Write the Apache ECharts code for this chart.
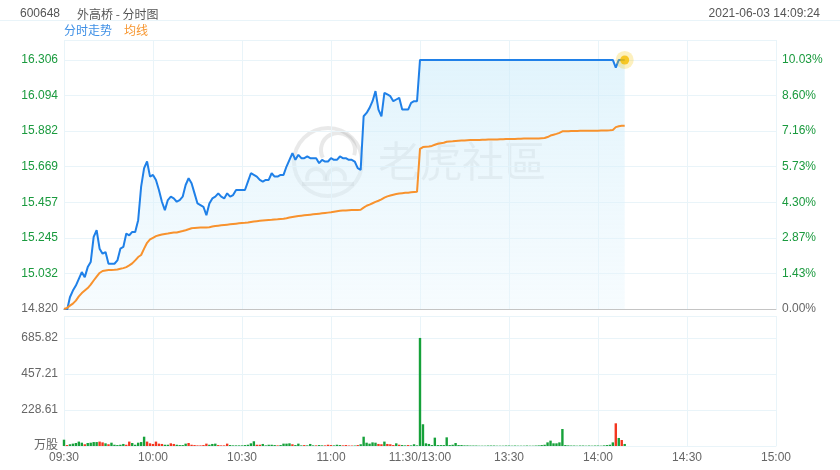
<!DOCTYPE html>
<html><head><meta charset="utf-8">
<script src="https://cdn.jsdelivr.net/npm/echarts@6/dist/echarts.min.js"></script>
<style>html,body{margin:0;padding:0;background:#fff}#c{width:840px;height:470px}</style>
</head><body><div id="c"></div>
<script>
// ---- data ----
const xTickLabels = ['09:30','10:00','10:30','11:00','11:30/13:00','13:30','14:00','14:30','15:00'];
const priceTicks = ['14.820','15.032','15.245','15.457','15.669','15.882','16.094','16.306'];
const pctTicks = ['0.00%','1.43%','2.87%','4.30%','5.73%','7.16%','8.60%','10.03%'];
const volTicks = ['万股','228.61','457.21','685.82'];

const price = [
14.82,14.81,14.89,14.93,14.96,15.00,15.04,15.01,15.07,15.10,
15.25,15.29,15.18,15.15,15.16,15.09,15.09,15.09,15.11,15.18,
15.19,15.27,15.26,15.28,15.28,15.35,15.55,15.66,15.70,15.61,
15.62,15.59,15.53,15.46,15.41,15.47,15.49,15.48,15.46,15.47,
15.49,15.56,15.60,15.57,15.51,15.45,15.44,15.43,15.38,15.45,
15.48,15.49,15.51,15.49,15.48,15.51,15.49,15.50,15.53,15.53,
15.53,15.53,15.58,15.63,15.62,15.61,15.59,15.58,15.59,15.59,
15.63,15.61,15.61,15.62,15.62,15.67,15.71,15.75,15.71,15.74,
15.72,15.72,15.73,15.72,15.72,15.72,15.69,15.71,15.70,15.70,
15.72,15.71,15.71,15.73,15.72,15.72,15.71,15.71,15.70,15.66,
15.65,15.97,15.99,16.02,16.06,16.12,16.01,15.97,16.11,16.10,
16.09,16.06,16.07,16.08,16.01,16.01,16.01,16.05,16.06,16.06,
16.306,16.306,16.306,16.306,16.306,16.306,16.306,16.306,16.306,16.306,
16.306,16.306,16.306,16.306,16.306,16.306,16.306,16.306,16.306,16.306,
16.306,16.306,16.306,16.306,16.306,16.306,16.306,16.306,16.306,16.306,
16.306,16.306,16.306,16.306,16.306,16.306,16.306,16.306,16.306,16.306,
16.306,16.306,16.306,16.306,16.306,16.306,16.306,16.306,16.306,16.306,
16.306,16.306,16.306,16.306,16.306,16.306,16.306,16.306,16.306,16.306,
16.306,16.306,16.306,16.306,16.306,16.306,16.26,16.306,16.306,16.306
];
const avg = [
14.82,14.826,14.84,14.852,14.87,14.895,14.915,14.93,14.945,14.965,
14.99,15.013,15.035,15.047,15.05,15.052,15.053,15.054,15.056,15.06,
15.064,15.07,15.08,15.092,15.11,15.13,15.142,15.18,15.215,15.235,
15.245,15.255,15.26,15.265,15.268,15.27,15.273,15.276,15.277,15.281,
15.285,15.29,15.296,15.302,15.304,15.305,15.306,15.307,15.307,15.308,
15.312,15.315,15.317,15.319,15.321,15.323,15.325,15.327,15.329,15.331,
15.333,15.334,15.336,15.339,15.342,15.344,15.346,15.348,15.35,15.351,
15.352,15.354,15.355,15.357,15.359,15.362,15.366,15.369,15.372,15.375,
15.377,15.379,15.381,15.383,15.385,15.387,15.389,15.391,15.393,15.395,
15.397,15.40,15.403,15.406,15.407,15.408,15.409,15.41,15.41,15.411,
15.412,15.425,15.436,15.443,15.451,15.459,15.466,15.474,15.484,15.492,
15.497,15.502,15.506,15.509,15.511,15.513,15.514,15.516,15.518,15.52,
15.775,15.786,15.788,15.79,15.793,15.80,15.806,15.809,15.812,15.818,
15.82,15.821,15.823,15.824,15.825,15.826,15.827,15.828,15.828,15.829,
15.829,15.83,15.83,15.831,15.831,15.832,15.832,15.833,15.833,15.834,
15.834,15.835,15.835,15.836,15.836,15.837,15.837,15.837,15.838,15.838,
15.838,15.839,15.84,15.846,15.855,15.86,15.865,15.871,15.88,15.881,
15.881,15.882,15.882,15.882,15.883,15.883,15.883,15.884,15.884,15.884,
15.884,15.885,15.885,15.885,15.886,15.888,15.905,15.91,15.913,15.914
];
const volume = [
40,6,11,15,19,28,21,11,19,21,
25,25,28,23,17,11,21,8,6,8,
13,8,28,19,8,21,25,59,28,17,
13,28,15,13,8,8,17,13,8,6,
6,15,19,8,6,4,4,6,15,8,
13,15,6,4,4,15,6,4,4,4,
4,6,8,17,30,8,8,13,4,8,
8,6,4,6,15,15,17,11,6,15,
4,6,4,13,4,4,6,4,4,8,
6,4,8,6,4,6,3,3,3,6,
11,59,21,15,23,21,13,11,28,13,
11,6,17,8,6,4,6,4,11,4,
685.82,138,17,13,6,53,6,6,6,55,
6,8,19,6,6,4,4,3,3,3,
2,2,2,3,3,3,2,2,2,3,
3,2,3,2,2,2,3,2,2,3,
4,6,8,23,34,17,17,23,108,6,
4,3,3,2,3,3,2,3,2,3,
3,2,4,6,8,23,144,51,38,13
];
// 1 = green bar, 0 = red bar
const volUp = [
1,0,1,1,1,1,1,0,1,1,
1,1,0,0,1,0,1,1,1,1,
1,0,0,1,1,1,1,1,0,0,
0,0,0,0,1,1,0,0,1,1,
1,1,0,0,0,0,0,0,0,1,
1,1,0,0,0,0,1,1,1,1,
1,1,1,1,1,0,0,1,1,1,
1,1,0,1,1,1,1,0,1,1,
1,0,1,1,1,0,1,1,0,0,
0,1,1,1,0,0,0,0,1,0,
1,1,1,1,1,1,0,0,1,0,
0,0,1,0,1,1,0,1,1,1,
1,1,1,1,1,1,1,1,1,1,
1,1,1,1,1,1,1,1,1,1,
1,1,1,1,1,1,1,1,1,1,
1,1,1,1,1,1,1,1,1,1,
1,1,1,1,1,1,1,1,1,1,
1,1,1,1,1,1,1,1,1,1,
1,1,1,1,1,1,0,1,0,1
];

// ---- categories (trading minutes) ----
const categories = [];
function pad(n){return (n<10?'0':'')+n;}
for (let m = 9*60+30; m <= 11*60+30; m++) categories.push(pad(Math.floor(m/60))+':'+pad(m%60));
for (let m = 13*60+1; m <= 15*60; m++) categories.push(pad(Math.floor(m/60))+':'+pad(m%60));

const GREEN_TXT = '#1a9a3e', GRAY_TXT = '#666', GRID = '#e9f4f9';
const WM = 'rgba(120,120,120,0.16)';
const pMin = 14.82, pStep = 0.212286, pMax = 16.425;
const vStep = 228.6067, vMax = 825;

const last = price.length - 1;
const chart = echarts.init(document.getElementById('c'));
chart.setOption({
  animation: false,
  textStyle: {fontFamily: 'Liberation Sans, Arial, Noto Sans CJK SC, sans-serif'},
  title: [
    {text: '600648', left: 15, top: 3, textStyle: {fontSize: 12, fontWeight: 'normal', color: '#555'}},
    {text: '外高桥 - 分时图', left: 72, top: 3, textStyle: {fontSize: 12, fontWeight: 'normal', color: '#555', fontFamily: 'Noto Sans CJK SC'}},
    {text: '2021-06-03 14:09:24', right: 15, top: 3, textStyle: {fontSize: 12, fontWeight: 'normal', color: '#555'}}
  ],
  legend: {
    left: 54, top: 19, itemWidth: 0, itemHeight: 0, itemGap: 7, icon: 'none',
    selectedMode: false,
    textStyle: {fontSize: 12, fontFamily: 'Noto Sans CJK SC'},
    data: [
      {name: '分时走势', textStyle: {color: '#3f90e6'}},
      {name: '均线', textStyle: {color: '#f7962f'}}
    ]
  },
  graphic: [
    {type: 'line', shape: {x1: 0, y1: 20.5, x2: 840, y2: 20.5}, style: {stroke: GRID, lineWidth: 1}, silent: true},
    {type: 'circle', shape: {cx: 328, cy: 162, r: 34}, style: {fill: 'none', stroke: WM, lineWidth: 4}, z: 0, silent: true},
    {type: 'arc', shape: {cx: 338, cy: 150, r: 17, startAngle: Math.PI*0.85, endAngle: Math.PI*2.1}, style: {fill: 'none', stroke: WM, lineWidth: 4}, z: 0, silent: true},
    {type: 'arc', shape: {cx: 316, cy: 178, r: 9, startAngle: Math.PI*0.9, endAngle: Math.PI*2.1}, style: {fill: 'none', stroke: WM, lineWidth: 4}, z: 0, silent: true},
    {type: 'arc', shape: {cx: 336, cy: 178, r: 9, startAngle: Math.PI*0.9, endAngle: Math.PI*2.1}, style: {fill: 'none', stroke: WM, lineWidth: 4}, z: 0, silent: true},
    {type: 'line', shape: {x1: 302, y1: 184, x2: 354, y2: 184}, style: {stroke: WM, lineWidth: 4}, z: 0, silent: true},
    {type: 'text', left: 378, top: 140, style: {text: '老虎社區', fill: 'rgba(120,120,120,0.17)', fontSize: 42, fontFamily: 'Noto Sans CJK TC'}, z: 0, silent: true}
  ],
  grid: [
    {left: 64, right: 64, top: 40, height: 269},
    {left: 64, right: 64, top: 316, bottom: 24}
  ],
  xAxis: [
    {type: 'category', gridIndex: 0, data: categories, boundaryGap: false,
     axisLine: {lineStyle: {color: '#c4c4c4'}}, axisTick: {show: false}, axisLabel: {show: false},
     splitLine: {show: true, interval: (i) => i % 30 === 0, lineStyle: {color: GRID}}},
    {type: 'category', gridIndex: 1, data: categories, boundaryGap: false,
     axisLine: {lineStyle: {color: GRID}}, axisTick: {show: false},
     axisLabel: {interval: (i) => i % 30 === 0, formatter: (v, i) => xTickLabels[Math.round(i / 30)], color: GRAY_TXT, fontSize: 12, margin: 6},
     splitLine: {show: true, interval: (i) => i % 30 === 0, lineStyle: {color: GRID}}}
  ],
  yAxis: [
    {type: 'value', gridIndex: 0, min: pMin, max: pMax, interval: pStep, position: 'left',
     axisLine: {show: false}, axisTick: {show: false},
     axisLabel: {margin: 6, fontSize: 12, formatter: (v, i) => priceTicks[i] || '', color: (v, i) => (i === 0 ? GRAY_TXT : GREEN_TXT)},
     splitLine: {lineStyle: {color: GRID}}},
    {type: 'value', gridIndex: 0, min: pMin, max: pMax, interval: pStep, position: 'right',
     axisLine: {show: false}, axisTick: {show: false},
     axisLabel: {margin: 6, fontSize: 12, formatter: (v, i) => pctTicks[i] || '', color: (v, i) => (i === 0 ? GRAY_TXT : GREEN_TXT)},
     splitLine: {show: false}},
    {type: 'value', gridIndex: 1, min: 0, max: vMax, interval: vStep, position: 'left',
     axisLine: {show: false}, axisTick: {show: false},
     axisLabel: {margin: 6, fontSize: 12, formatter: (v, i) => volTicks[i] || '', color: GRAY_TXT},
     splitLine: {lineStyle: {color: GRID}}}
  ],
  series: [
    {name: '分时走势', type: 'line', xAxisIndex: 0, yAxisIndex: 0, data: price, symbol: 'none', z: 3,
     lineStyle: {color: '#1f80e8', width: 2}, itemStyle: {color: '#1f80e8'},
     areaStyle: {origin: 'start', color: new echarts.graphic.LinearGradient(0, 0, 0, 1, [
       {offset: 0, color: 'rgba(205,236,250,0.85)'}, {offset: 1, color: 'rgba(232,246,253,0.55)'}])}},
    {name: '均线', type: 'line', xAxisIndex: 0, yAxisIndex: 0, data: avg, symbol: 'none', z: 4,
     lineStyle: {color: '#f8922d', width: 2}, itemStyle: {color: '#f8922d'}},
    {type: 'scatter', xAxisIndex: 0, yAxisIndex: 0, z: 5, symbolSize: 18,
     data: [[last, price[last]]], itemStyle: {color: 'rgba(247,200,20,0.35)'}},
    {type: 'scatter', xAxisIndex: 0, yAxisIndex: 0, z: 6, symbolSize: 9,
     data: [[last, price[last]]], itemStyle: {color: '#f5bd00'}},
    {type: 'bar', xAxisIndex: 1, yAxisIndex: 2, barWidth: 2.4,
     data: volume.map((v, i) => ({value: v, itemStyle: {color: volUp[i] ? '#16a13a' : '#f3361f'}}))}
  ]
});
</script></body></html>
